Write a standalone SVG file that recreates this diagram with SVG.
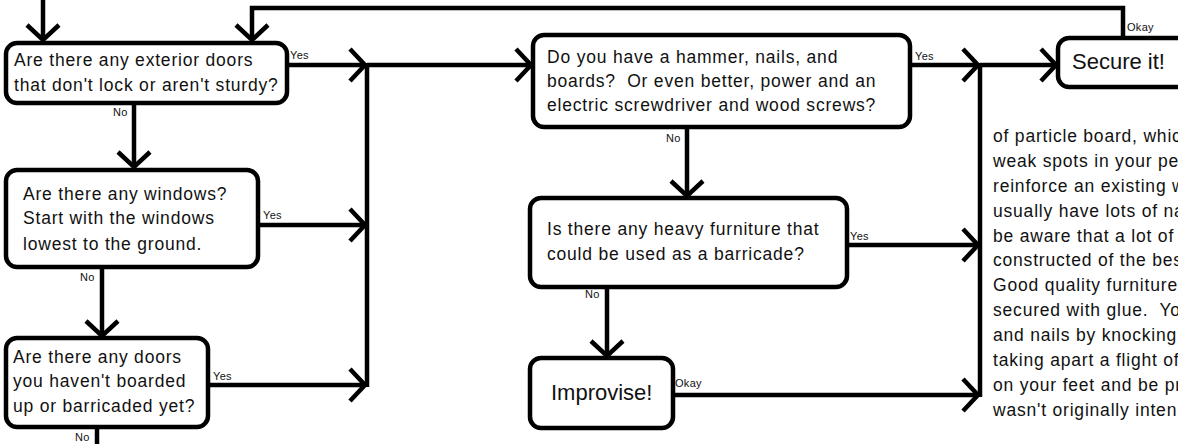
<svg xmlns="http://www.w3.org/2000/svg" width="1178" height="444" viewBox="0 0 1178 444">
<style>
.box{fill:#fff;stroke:#000;stroke-width:4.5}
.ln{fill:none;stroke:#000;stroke-width:4.5}
.t{font-family:"Liberation Sans",Arial,sans-serif;font-size:17.5px;letter-spacing:0.8px;fill:#111;white-space:pre}
.big{font-family:"Liberation Sans",Arial,sans-serif;font-size:22px;fill:#111}
.lb{font-family:"Liberation Sans",Arial,sans-serif;font-size:11px;letter-spacing:0.3px;fill:#111}
</style>
<defs>
<marker id="arr" markerUnits="userSpaceOnUse" markerWidth="44" markerHeight="44" viewBox="-22 -22 44 44" refX="0" refY="0" orient="auto">
<path d="M-15,-16 L0,0 L-15,16" fill="none" stroke="#000" stroke-width="4.5"/>
</marker>
</defs>
<rect width="1178" height="444" fill="#fff"/>
<g id="connectors">
<path class="ln" d="M43,0 V40" marker-end="url(#arr)"/>
<path class="ln" d="M1123,38 V8 H252 V40" marker-end="url(#arr)"/>
<path class="ln" d="M287,65 H365" marker-end="url(#arr)"/>
<path class="ln" d="M367,63 V387"/>
<path class="ln" d="M367,65 H531" marker-end="url(#arr)"/>
<path class="ln" d="M134,103 V167" marker-end="url(#arr)"/>
<path class="ln" d="M258,225 H365" marker-end="url(#arr)"/>
<path class="ln" d="M102,267 V336" marker-end="url(#arr)"/>
<path class="ln" d="M208,385 H365" marker-end="url(#arr)"/>
<path class="ln" d="M97,427 V444"/>
<path class="ln" d="M910,65 H978" marker-end="url(#arr)"/>
<path class="ln" d="M980,63 V397"/>
<path class="ln" d="M980,65 H1056" marker-end="url(#arr)"/>
<path class="ln" d="M687,127 V196" marker-end="url(#arr)"/>
<path class="ln" d="M847,245 H978" marker-end="url(#arr)"/>
<path class="ln" d="M607,287 V356" marker-end="url(#arr)"/>
<path class="ln" d="M673,395 H978" marker-end="url(#arr)"/>
<text class="lb" x="290" y="59">Yes</text>
<text class="lb" x="113" y="116">No</text>
<text class="lb" x="263" y="219">Yes</text>
<text class="lb" x="80" y="281">No</text>
<text class="lb" x="213" y="380">Yes</text>
<text class="lb" x="75" y="441">No</text>
<text class="lb" x="915" y="60">Yes</text>
<text class="lb" x="666" y="142">No</text>
<text class="lb" x="850" y="240">Yes</text>
<text class="lb" x="585" y="298">No</text>
<text class="lb" x="675" y="387">Okay</text>
<text class="lb" x="1127" y="31">Okay</text>
</g>
<g id="n1">
<rect class="box" x="6" y="43" width="281" height="60" rx="11"/>
<text class="t" x="14" y="66">Are there any exterior doors</text>
<text class="t" x="14" y="91">that don't lock or aren't sturdy?</text>
</g>
<g id="n2">
<rect class="box" x="6" y="170" width="252" height="97" rx="11"/>
<text class="t" x="23" y="200">Are there any windows?</text>
<text class="t" x="23" y="224">Start with the windows</text>
<text class="t" x="23" y="250">lowest to the ground.</text>
</g>
<g id="n3">
<rect class="box" x="6" y="338" width="202" height="89" rx="11"/>
<text class="t" x="13" y="363">Are there any doors</text>
<text class="t" x="13" y="387">you haven't boarded</text>
<text class="t" x="13" y="412">up or barricaded yet?</text>
</g>
<g id="n4">
<rect class="box" x="533" y="35" width="377" height="92" rx="11"/>
<text class="t" x="547" y="63">Do you have a hammer, nails, and</text>
<text class="t" x="547" y="87" xml:space="preserve">boards?  Or even better, power and an</text>
<text class="t" x="547" y="111">electric screwdriver and wood screws?</text>
</g>
<g id="n5">
<rect class="box" x="530" y="198" width="317" height="89" rx="11"/>
<text class="t" x="547" y="235">Is there any heavy furniture that</text>
<text class="t" x="547" y="260">could be used as a barricade?</text>
</g>
<g id="n6">
<rect class="box" x="530" y="358" width="143" height="70" rx="11"/>
<text class="big" x="551" y="400">Improvise!</text>
</g>
<g id="n7">
<rect class="box" x="1058" y="38" width="150" height="49" rx="11"/>
<text class="big" x="1072" y="69">Secure it!</text>
</g>
<g id="notes">
<text class="t" x="993" y="142">of particle board, whic</text>
<text class="t" x="993" y="167">weak spots in your pe</text>
<text class="t" x="993" y="192">reinforce an existing w</text>
<text class="t" x="993" y="217">usually have lots of na</text>
<text class="t" x="993" y="242">be aware that a lot of</text>
<text class="t" x="993" y="266">constructed of the bes</text>
<text class="t" x="993" y="291">Good quality furniture</text>
<text class="t" x="993" y="316" xml:space="preserve">secured with glue.  Yo</text>
<text class="t" x="993" y="341">and nails by knocking</text>
<text class="t" x="993" y="366">taking apart a flight of</text>
<text class="t" x="993" y="391">on your feet and be pr</text>
<text class="t" x="993" y="416">wasn't originally inten</text>
</g>
</svg>
